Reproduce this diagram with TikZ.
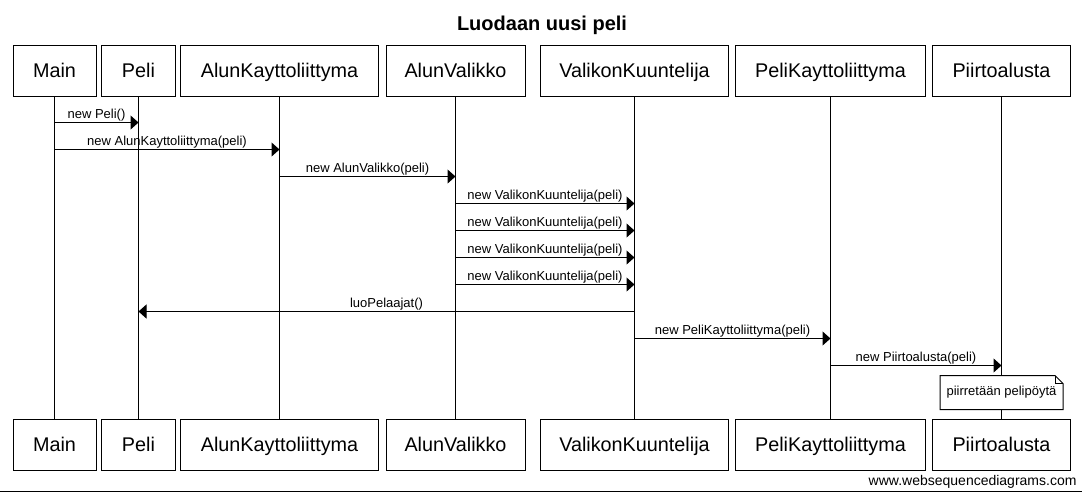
\documentclass[tikz,border=0pt]{standalone}
\usepackage{fontspec}
\setmainfont{Liberation Sans}
\usetikzlibrary{arrows.meta}

\begin{document}
\begin{tikzpicture}[x=1pt,y=-1pt,line width=1pt,
  actor/.style={draw,inner sep=0pt,minimum height=51pt,text height=13.8pt,text depth=0pt,font=\fontsize{19.8}{23}\selectfont},
  msg/.style={-{Triangle[length=8pt,width=14pt]}},
  lbl/.style={anchor=base,yshift=4pt,inner sep=0pt,font=\fontsize{13}{15}\selectfont}]
\useasboundingbox (0,0) rectangle (1082,493);

\node[anchor=base,font=\bfseries\fontsize{20}{24}\selectfont] (title) at (542,30) {Luodaan uusi peli};

\node[actor,minimum width=83pt] (main) at (54.5,70.5) {Main};
\node[actor,minimum width=74pt] (peli) at (138.5,70.5) {Peli};
\node[actor,minimum width=198pt] (alunk) at (279.5,70.5) {AlunKayttoliittyma};
\node[actor,minimum width=139pt] (alunv) at (455.5,70.5) {AlunValikko};
\node[actor,minimum width=188pt] (vkuunt) at (634.5,70.5) {ValikonKuuntelija};
\node[actor,minimum width=190pt] (pelik) at (830.5,70.5) {PeliKayttoliittyma};
\node[actor,minimum width=138pt] (piirto) at (1001.5,70.5) {Piirtoalusta};

\node[actor,minimum width=83pt] (b-main) at (54.5,445) {Main};
\node[actor,minimum width=74pt] (b-peli) at (138.5,445) {Peli};
\node[actor,minimum width=198pt] (b-alunk) at (279.5,445) {AlunKayttoliittyma};
\node[actor,minimum width=139pt] (b-alunv) at (455.5,445) {AlunValikko};
\node[actor,minimum width=188pt] (b-vkuunt) at (634.5,445) {ValikonKuuntelija};
\node[actor,minimum width=190pt] (b-pelik) at (830.5,445) {PeliKayttoliittyma};
\node[actor,minimum width=138pt] (b-piirto) at (1001.5,445) {Piirtoalusta};

\foreach \a in {main,peli,alunk,alunv,vkuunt,pelik,piirto}
  \draw (\a.south) -- (b-\a.north);

\foreach \i in {1,...,10}
  \coordinate (r\i) at (0,95.5+27*\i);

\draw[msg] (main |- r1) -- node[lbl]{new Peli()} (peli |- r1);
\draw[msg] (main |- r2) -- node[lbl]{new AlunKayttoliittyma(peli)} (alunk |- r2);
\draw[msg] (alunk |- r3) -- node[lbl]{new AlunValikko(peli)} (alunv |- r3);
\foreach \i in {4,...,7}
  \draw[msg] (alunv |- r\i) -- node[lbl]{new ValikonKuuntelija(peli)} (vkuunt |- r\i);
\draw[msg] (vkuunt |- r8) -- node[lbl]{luoPelaajat()} (peli |- r8);
\draw[msg] (vkuunt |- r9) -- node[lbl]{new PeliKayttoliittyma(peli)} (pelik |- r9);
\draw[msg] (pelik |- r10) -- node[lbl]{new Piirtoalusta(peli)} (piirto |- r10);

\node[fill=white,inner sep=0pt,minimum width=122pt,minimum height=33pt,font=\fontsize{13}{15}\selectfont] (note) at (1001.5,392.5) {piirretään pelipöytä};
\draw (note.north west) -- ([xshift=-8pt]note.north east) -- ([yshift=-8pt]note.north east) -- (note.south east) -- (note.south west) -- cycle;
\draw ([xshift=-8pt]note.north east) -- ([xshift=-8pt,yshift=-8pt]note.north east) -- ([yshift=-8pt]note.north east);

\node[anchor=base east,inner sep=0pt,font=\fontsize{14}{16}\selectfont] (site) at (1077,485) {www.websequencediagrams.com};
\draw (0,491.5) -- (1082,491.5);

\end{tikzpicture}
\end{document}
